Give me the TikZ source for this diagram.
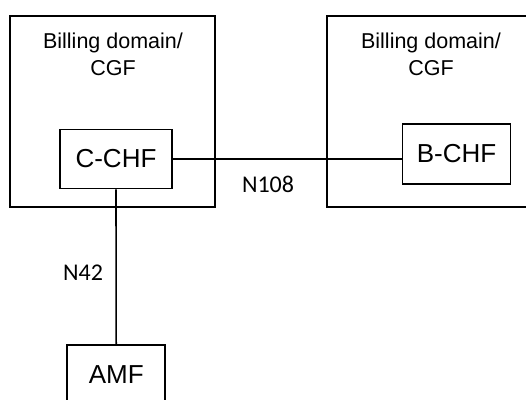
\documentclass[tikz,border=0pt]{standalone}
\usepackage{fontspec}
\setmainfont{Liberation Sans}
\newfontfamily\calfont{Carlito}
\begin{document}
\begin{tikzpicture}[x=1pt,y=-1pt,
  frame/.style={draw=black,line width=1.6pt},
  fbox/.style={draw=black,line width=1.6pt,rectangle,inner sep=0pt,font=\fontsize{26}{30}\selectfont},
  domlabel/.style={align=center,inner sep=0pt,anchor=base,font=\fontsize{21.5}{26.7}\selectfont},
  iflabel/.style={inner sep=0pt,anchor=base,font=\calfont\fontsize{24}{28}\selectfont},
  conn/.style={draw=black,line width=1.6pt}]
\useasboundingbox (0,0) rectangle (526,399);
\clip (0,0) rectangle (526,399);
% domain frames
\draw[frame] (10,16) rectangle (215,207);
\draw[frame] (327,16) rectangle (540,207);
\node[domlabel] (dl) at (113,75) {Billing domain/\\CGF};
\node[domlabel] (dr) at (431,75) {Billing domain/\\CGF};
% functions
\node[fbox,minimum width=112pt,minimum height=59pt] (cchf) at (116,159) {C-CHF};
\node[fbox,minimum width=108pt,minimum height=60pt] (bchf) at (456.5,154) {B-CHF};
\node[fbox,minimum width=98pt,minimum height=60pt] (amf) at (116.2,375) {AMF};
% connectors
\draw[conn] (cchf.east) -- (cchf.east -| bchf.west);
\draw[conn] (cchf.south) -- (amf.north);
\node[iflabel] (n108) at (268,192.3) {N108};
\node[iflabel] (n42) at (83,280) {N42};
\end{tikzpicture}
\end{document}
